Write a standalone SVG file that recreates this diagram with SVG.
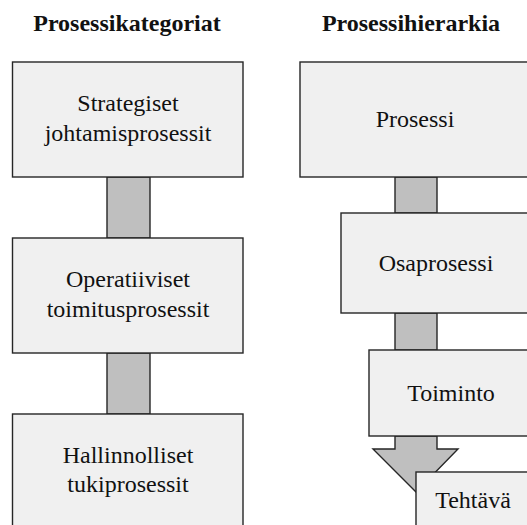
<svg xmlns="http://www.w3.org/2000/svg" width="527" height="525" viewBox="0 0 527 525">
  <style>
    .box { fill: #f0f0f0; stroke: #262626; stroke-width: 1.4; }
    .link { fill: #bfbfbf; stroke: #262626; stroke-width: 1.4; stroke-linejoin: miter; }
    text { font-family: 'Liberation Serif', 'Times New Roman', Tinos, 'DejaVu Serif', serif; font-size: 24px; fill: #111; text-anchor: middle; }
    .title { font-weight: 700; }
    .label { font-weight: 400; font-style: normal; }
  </style>
  <rect width="527" height="525" fill="#ffffff"/>

  <!-- column headings -->
  <text class="title" x="127" y="31">Prosessikategoriat</text>
  <text class="title" x="411" y="31">Prosessihierarkia</text>

  <!-- connectors (drawn beneath the boxes) -->
  <g id="connectors">
    <rect class="link" x="107" y="177" width="43" height="61"/>
    <rect class="link" x="107" y="353" width="43" height="61"/>
    <rect class="link" x="395" y="177" width="42" height="36"/>
    <rect class="link" x="395" y="313" width="42" height="37"/>
    <path class="link" d="M395,436 V449 H373 L416,492 L458,449 H437 V436 Z"/>
  </g>

  <!-- left column: process categories -->
  <g id="strategiset">
    <rect class="box" x="12.5" y="62" width="230.5" height="115"/>
    <text class="label" x="128" y="111">Strategiset</text>
    <text class="label" x="128" y="141">johtamisprosessit</text>
  </g>
  <g id="operatiiviset">
    <rect class="box" x="12.5" y="238" width="230.5" height="115"/>
    <text class="label" x="128" y="287">Operatiiviset</text>
    <text class="label" x="128" y="317">toimitusprosessit</text>
  </g>
  <g id="hallinnolliset">
    <rect class="box" x="12.5" y="414" width="230.5" height="115"/>
    <text class="label" x="128" y="463">Hallinnolliset</text>
    <text class="label" x="128" y="492">tukiprosessit</text>
  </g>

  <!-- right column: process hierarchy -->
  <g id="prosessi">
    <rect class="box" x="300" y="62" width="231" height="115"/>
    <text class="label" x="415" y="127">Prosessi</text>
  </g>
  <g id="osaprosessi">
    <rect class="box" x="341" y="213" width="190" height="100"/>
    <text class="label" x="436" y="271">Osaprosessi</text>
  </g>
  <g id="toiminto">
    <rect class="box" x="369" y="350" width="162" height="86"/>
    <text class="label" x="451" y="401">Toiminto</text>
  </g>
  <g id="tehtava">
    <rect class="box" x="416" y="472" width="115" height="60"/>
    <text class="label" x="473" y="508">Tehtävä</text>
  </g>
</svg>
